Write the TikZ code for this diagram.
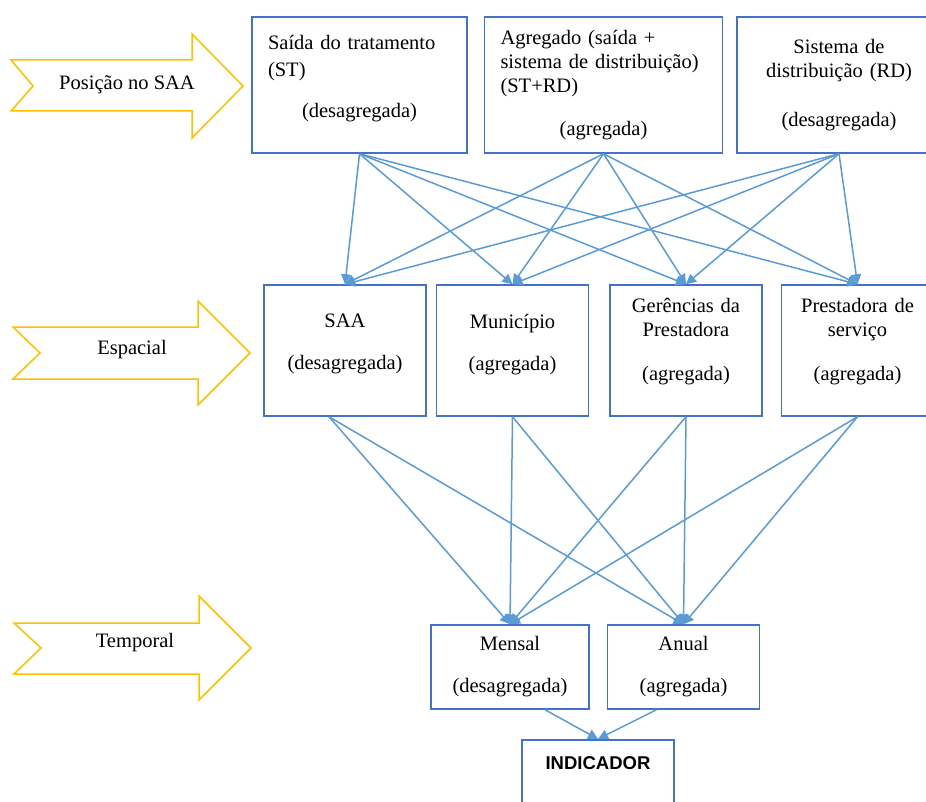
\documentclass[tikz,border=0pt]{standalone}
\usepackage{fontspec}
\setmainfont{Liberation Serif}
\newfontfamily\labelsans{Liberation Sans}
\definecolor{saaBlue}{RGB}{68,114,196}
\definecolor{saaLink}{RGB}{91,155,213}
\definecolor{saaYellow}{RGB}{255,192,0}
\usetikzlibrary{arrows.meta,positioning}

\begin{document}
\begin{tikzpicture}[x=1pt, y=-1pt,
  box/.style={draw=saaBlue, line width=1.5pt, inner xsep=8pt, inner ysep=0pt,
              font=\fontsize{20.5}{24}\selectfont, align=center},
  band/.style={draw=saaYellow, line width=1.5pt, fill=white, line join=miter},
  bandtext/.style={font=\fontsize{20.5}{24}\selectfont},
  link/.style={-{Triangle[length=10pt,width=10pt]}, line width=1.5pt, saaLink}
]
  \useasboundingbox (0,0) rectangle (926,802);

  % level arrows on the left
  \draw[band] (11,60) -- (192,60) -- (192,34) -- (243,86) -- (192,138)
    -- (192,111) -- (11,111) -- (33,86) -- cycle;
  \node[bandtext] (posicao) at (127,85) {Posição no SAA};
  \draw[band] (13,327) -- (198,327) -- (198,301) -- (250,353) -- (198,405)
    -- (198,379) -- (13,379) -- (40,353) -- cycle;
  \node[bandtext] (espacial) at (132,350) {Espacial};
  \draw[band] (14,623) -- (199,623) -- (199,596) -- (251,648) -- (199,700)
    -- (199,674) -- (14,674) -- (41,648) -- cycle;
  \node[bandtext] (temporal) at (135,643) {Temporal};

  % position in the system
  \node[box, align=left, text width=183pt, inner xsep=16pt, minimum height=136pt]
    (st) at (359.5,85) {Saída do tratamento\\[3pt](ST)\\[17pt]%
      \makebox[\linewidth]{(desagregada)}\\[-7pt]\mbox{}};
  \node[box, align=left, text width=206pt, inner xsep=16pt, minimum height=136pt,
        right=16pt of st] (ag)
    {Agregado (saída +\\sistema de distribuição)\\(ST+RD)\\[19pt]%
      \makebox[\linewidth]{(agregada)}};
  \node[box, text width=188pt, minimum height=136pt, right=13pt of ag] (rd)
    {Sistema de\\distribuição (RD)\\[25pt](desagregada)};

  % spatial level
  \node[box, text width=146pt, minimum height=131pt] (saa) at (345,350.5)
    {SAA\\[18pt](desagregada)\\[-7pt]\mbox{}};
  \node[box, text width=136pt, minimum height=131pt, right=9pt of saa] (mun)
    {Município\\[18pt](agregada)\\[-7pt]\mbox{}};
  \node[box, text width=136pt, minimum height=131pt, right=20pt of mun] (ger)
    {Gerências da\\Prestadora\\[20pt](agregada)\\[-1pt]\mbox{}};
  \node[box, text width=136pt, minimum height=131pt, right=18pt of ger] (pre)
    {Prestadora de\\serviço\\[20pt](agregada)\\[-1pt]\mbox{}};

  % time level
  \node[box, text width=142pt, minimum height=84pt] (mensal) at (510,667)
    {Mensal\\[18pt](desagregada)};
  \node[box, text width=136pt, minimum height=84pt, right=17pt of mensal] (anual)
    {Anual\\[18pt](agregada)};

  \node[box, anchor=north, text width=136pt, inner ysep=17pt,
        font=\labelsans\bfseries\fontsize{18.5}{22}\selectfont]
    (ind) at (598,739) {INDICADOR\\[40pt]\mbox{}};

  \foreach \src in {st,ag,rd}
    \foreach \dst in {saa,mun,ger,pre}
      \draw[link] (\src.south) -- (\dst.north);

  \coordinate (saa-out) at ([xshift=-16pt]saa.south);
  \foreach \src in {saa-out,mun.south,ger.south,pre.south}
    \foreach \dst in {mensal,anual}
      \draw[link] (\src) -- (\dst.north);

  \draw[link] ([xshift=35pt]mensal.south) -- (ind.north);
  \draw[link] ([xshift=-27pt]anual.south) -- (ind.north);
\end{tikzpicture}
\end{document}
